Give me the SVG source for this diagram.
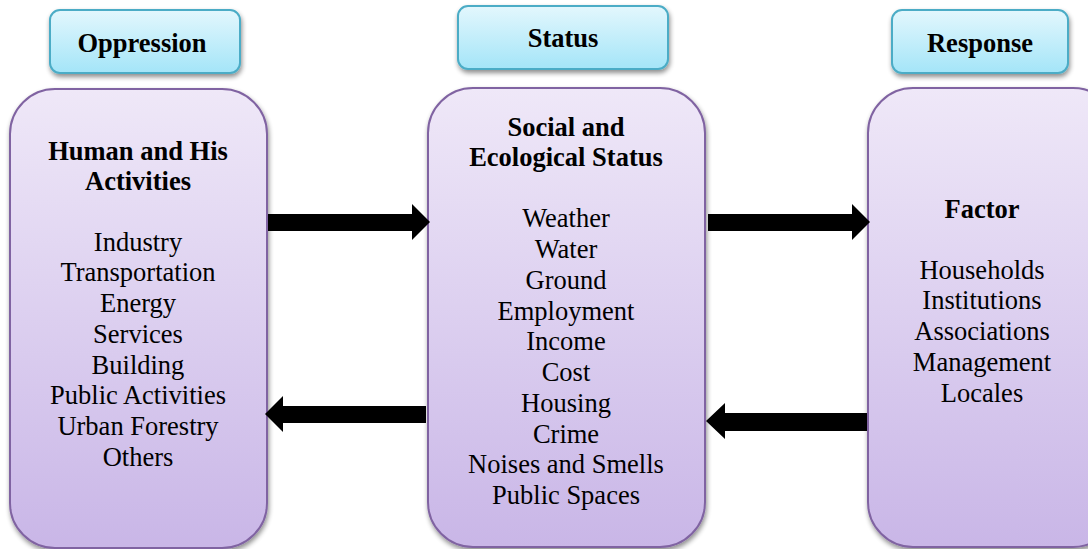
<svg xmlns="http://www.w3.org/2000/svg" width="1088" height="549" viewBox="0 0 1088 549">
<style>
.hdr{stroke:#4bacc6;stroke-width:2;fill:url(#gHdr)}
.box{stroke:#8064a2;stroke-width:2;fill:url(#gBox)}
.t{font-family:"Liberation Serif","Times New Roman",serif;font-size:26.5px;fill:#000;text-anchor:middle}
.b{font-weight:bold}
.arr{fill:#000}
</style>
<defs>
<linearGradient id="gHdr" x1="0" y1="0" x2="0" y2="1">
<stop offset="0" stop-color="#e3f7fd"/>
<stop offset="1" stop-color="#a4e5f8"/>
</linearGradient>
<linearGradient id="gBox" x1="0" y1="0" x2="0" y2="1">
<stop offset="0" stop-color="#efe8f8"/>
<stop offset="1" stop-color="#c9b6e7"/>
</linearGradient>
<filter id="sh" x="-10%" y="-10%" width="130%" height="130%">
<feGaussianBlur in="SourceAlpha" stdDeviation="2.5"/>
<feOffset dx="1" dy="3" result="o"/>
<feComponentTransfer><feFuncA type="linear" slope="0.45"/></feComponentTransfer>
<feMerge><feMergeNode/><feMergeNode in="SourceGraphic"/></feMerge>
</filter>
</defs>
<rect width="1088" height="549" fill="#fff"/>

<g id="hdr-oppression">
<rect class="hdr" x="50" y="10" width="190" height="63" rx="10" filter="url(#sh)"/>
<text class="t b" x="142" y="52">Oppression</text>
</g>
<g id="hdr-status">
<rect class="hdr" x="458" y="6" width="210" height="63" rx="10" filter="url(#sh)"/>
<text class="t b" x="563" y="47">Status</text>
</g>
<g id="hdr-response">
<rect class="hdr" x="892" y="10" width="176" height="63" rx="10" filter="url(#sh)"/>
<text class="t b" x="980" y="52">Response</text>
</g>

<g id="box-human">
<rect class="box" x="10" y="89" width="257" height="459" rx="45" filter="url(#sh)"/>
<text class="t b" x="138" y="160">Human and His</text>
<text class="t b" x="138" y="190">Activities</text>
<text class="t" x="138" y="251">Industry</text>
<text class="t" x="138" y="281">Transportation</text>
<text class="t" x="138" y="312">Energy</text>
<text class="t" x="138" y="343">Services</text>
<text class="t" x="138" y="374">Building</text>
<text class="t" x="138" y="404">Public Activities</text>
<text class="t" x="138" y="435">Urban Forestry</text>
<text class="t" x="138" y="466">Others</text>
</g>

<g id="box-social">
<rect class="box" x="428" y="88" width="277" height="459" rx="45" filter="url(#sh)"/>
<text class="t b" x="566" y="136">Social and</text>
<text class="t b" x="566" y="166">Ecological Status</text>
<text class="t" x="566" y="227">Weather</text>
<text class="t" x="566" y="258">Water</text>
<text class="t" x="566" y="289">Ground</text>
<text class="t" x="566" y="320">Employment</text>
<text class="t" x="566" y="350">Income</text>
<text class="t" x="566" y="381">Cost</text>
<text class="t" x="566" y="412">Housing</text>
<text class="t" x="566" y="443">Crime</text>
<text class="t" x="566" y="473">Noises and Smells</text>
<text class="t" x="566" y="504">Public Spaces</text>
</g>

<g id="box-factor">
<rect class="box" x="868" y="88" width="250" height="459" rx="45" filter="url(#sh)"/>
<text class="t b" x="982" y="218">Factor</text>
<text class="t" x="982" y="279">Households</text>
<text class="t" x="982" y="309">Institutions</text>
<text class="t" x="982" y="340">Associations</text>
<text class="t" x="982" y="371">Management</text>
<text class="t" x="982" y="402">Locales</text>
</g>

<g id="connectors">
<polygon class="arr" points="268,214 412,214 412,204 430,222 412,240 412,231 268,231"/>
<polygon class="arr" points="708,214 852,214 852,204 870,222 852,240 852,231 708,231"/>
<polygon class="arr" points="426,406 283,406 283,396 265,414 283,432 283,423 426,423"/>
<polygon class="arr" points="867,413 725,413 725,403 706,421 725,439 725,431 867,431"/>
</g>
</svg>
